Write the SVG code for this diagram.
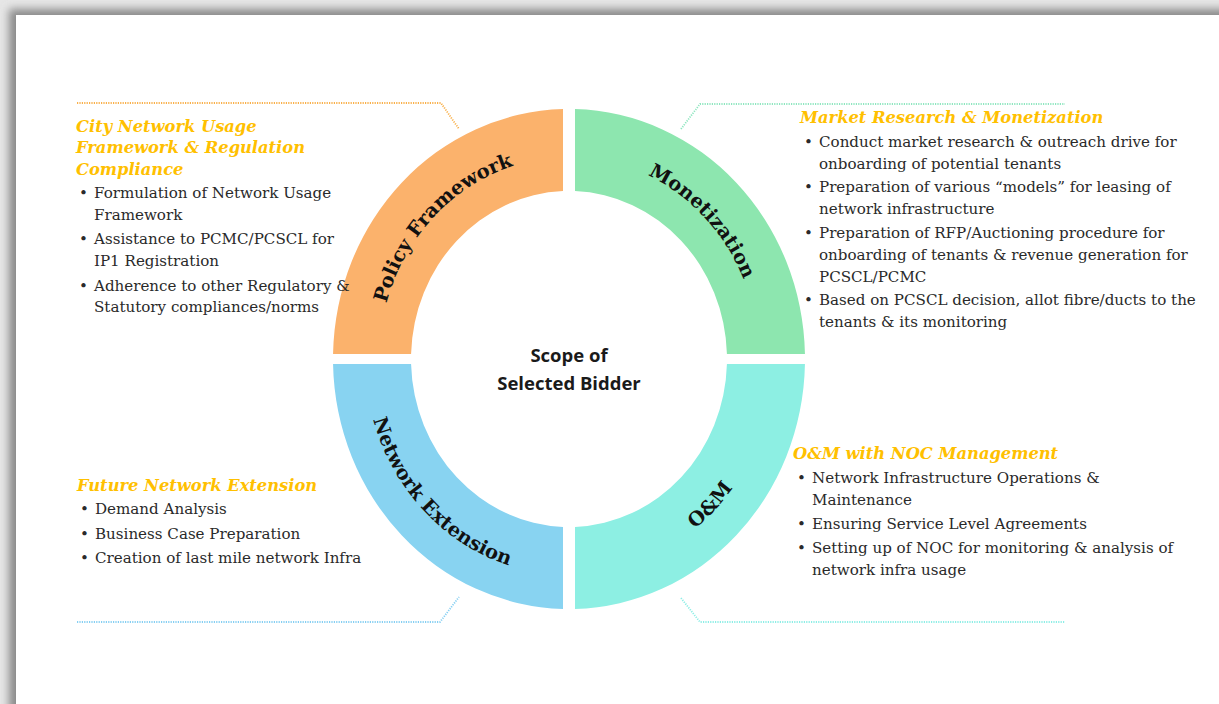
<svg xmlns="http://www.w3.org/2000/svg" width="1219" height="704" viewBox="0 0 1219 704">
<defs>
<filter id="shadow" x="-5%" y="-5%" width="110%" height="110%"><feGaussianBlur stdDeviation="4"/></filter>
<path id="pPolicy" d="M379,359 A190,202 0 0 1 569,157"/>
<path id="pMon" d="M569,157 A190,202 0 0 1 759,359"/>
<path id="pNet" d="M365,359 A204,216 0 0 0 569,575"/>
<path id="pOM" d="M569,575 A204,216 0 0 0 773,359"/>
</defs>
<style>
.body{font-family:"DejaVu Serif","Liberation Serif",serif;font-size:15.1px;fill:#2a2a2a}
.title{font-family:"DejaVu Serif","Liberation Serif",serif;font-size:16.3px;font-weight:bold;font-style:italic;fill:#FFC000}
.ring{font-family:"DejaVu Serif","Liberation Serif",serif;font-size:19.5px;font-weight:bold;fill:#111}
.center{font-family:"Open Sans","Liberation Sans",sans-serif;font-size:18.5px;font-weight:700;fill:#1a1a1a}
.lead{fill:none;stroke-width:1.8;stroke-dasharray:1.2 1.2}
</style>
<rect x="0" y="0" width="1219" height="704" fill="#e6e6e6"/>
<rect x="9" y="9" width="1300" height="800" fill="#8a8a8a" filter="url(#shadow)"/>
<rect x="16" y="15" width="1300" height="800" fill="#ffffff"/>

<g id="connectors">
<polyline class="lead" stroke="#F9B04A" points="77,103 441,103 459,129"/>
<polyline class="lead" stroke="#8FE6C0" points="681,129 700,104 1065,104"/>
<polyline class="lead" stroke="#86CFF2" points="77,622 440,622 459,597"/>
<polyline class="lead" stroke="#8EEEE6" points="681,598 700,622 1065,622"/>
</g>

<g id="policy-framework">
<path d="M333.05,354 A236,250 0 0 1 563,109.08 L563,191.12 A158,168 0 0 0 411.07,354 Z" fill="#FBB26C"/>
<text class="ring"><textPath href="#pPolicy" startOffset="50%" text-anchor="middle">Policy Framework</textPath></text>
</g>
<g id="monetization">
<path d="M575,109.08 A236,250 0 0 1 804.95,354 L726.93,354 A158,168 0 0 0 575,191.12 Z" fill="#8DE6AF"/>
<text class="ring"><textPath href="#pMon" startOffset="50%" text-anchor="middle">Monetization</textPath></text>
</g>
<g id="network-extension">
<path d="M333.05,364 A236,250 0 0 0 563,608.92 L563,526.88 A158,168 0 0 1 411.07,364 Z" fill="#88D3F1"/>
<text class="ring"><textPath href="#pNet" startOffset="50%" text-anchor="middle">Network Extension</textPath></text>
</g>
<g id="om">
<path d="M575,608.92 A236,250 0 0 0 804.95,364 L726.93,364 A158,168 0 0 1 575,526.88 Z" fill="#8DEFE3"/>
<text class="ring"><textPath href="#pOM" startOffset="50%" text-anchor="middle">O&amp;M</textPath></text>
</g>

<g id="scope">
<text class="center" x="569" y="362" text-anchor="middle">Scope of</text>
<text class="center" x="569" y="390" text-anchor="middle">Selected Bidder</text>
</g>

<g id="policy-text">
<text class="title" x="76" y="132">City Network Usage</text>
<text class="title" x="76" y="153">Framework &amp; Regulation</text>
<text class="title" x="76" y="175">Compliance</text>
<text class="body" x="79" y="198">•</text><text class="body" x="94" y="198">Formulation of Network Usage</text>
<text class="body" x="94" y="220">Framework</text>
<text class="body" x="79" y="244">•</text><text class="body" x="94" y="244">Assistance to PCMC/PCSCL for</text>
<text class="body" x="94" y="266">IP1 Registration</text>
<text class="body" x="79" y="291">•</text><text class="body" x="94" y="291">Adherence to other Regulatory &amp;</text>
<text class="body" x="94" y="312">Statutory compliances/norms</text>
</g>

<g id="monetization-text">
<text class="title" x="800" y="123">Market Research &amp; Monetization</text>
<text class="body" x="804" y="147">•</text><text class="body" x="819" y="147">Conduct market research &amp; outreach drive for</text>
<text class="body" x="819" y="169">onboarding of potential tenants</text>
<text class="body" x="804" y="192">•</text><text class="body" x="819" y="192">Preparation of various “models” for leasing of</text>
<text class="body" x="819" y="214">network infrastructure</text>
<text class="body" x="804" y="238">•</text><text class="body" x="819" y="238">Preparation of RFP/Auctioning procedure for</text>
<text class="body" x="819" y="260">onboarding of tenants &amp; revenue generation for</text>
<text class="body" x="819" y="282">PCSCL/PCMC</text>
<text class="body" x="804" y="305">•</text><text class="body" x="819" y="305">Based on PCSCL decision, allot fibre/ducts to the</text>
<text class="body" x="819" y="327">tenants &amp; its monitoring</text>
</g>

<g id="network-text">
<text class="title" x="77" y="491">Future Network Extension</text>
<text class="body" x="80" y="514">•</text><text class="body" x="95" y="514">Demand Analysis</text>
<text class="body" x="80" y="539">•</text><text class="body" x="95" y="539">Business Case Preparation</text>
<text class="body" x="80" y="563">•</text><text class="body" x="95" y="563">Creation of last mile network Infra</text>
</g>

<g id="om-text">
<text class="title" x="793" y="459">O&amp;M with NOC Management</text>
<text class="body" x="797" y="483">•</text><text class="body" x="812" y="483">Network Infrastructure Operations &amp;</text>
<text class="body" x="812" y="505">Maintenance</text>
<text class="body" x="797" y="529">•</text><text class="body" x="812" y="529">Ensuring Service Level Agreements</text>
<text class="body" x="797" y="553">•</text><text class="body" x="812" y="553">Setting up of NOC for monitoring &amp; analysis of</text>
<text class="body" x="812" y="575">network infra usage</text>
</g>
</svg>
